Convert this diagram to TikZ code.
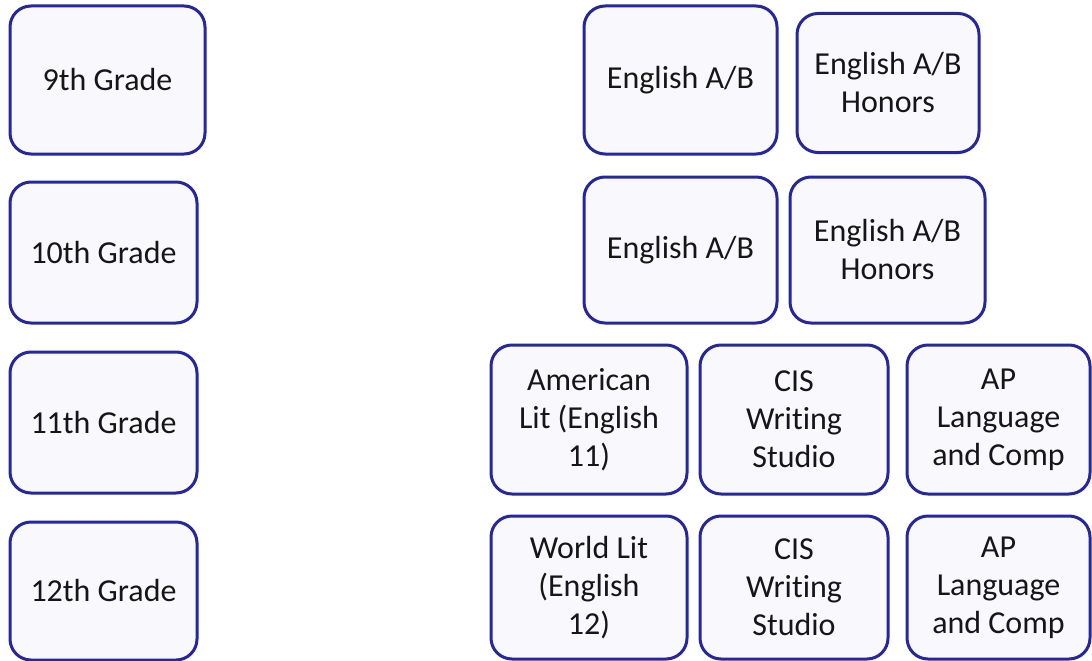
\documentclass[tikz,border=0pt]{standalone}
\usepackage{fontspec}
\setmainfont{Carlito}[RawFeature={-liga;-clig}]
\definecolor{boxline}{RGB}{38,38,158}
\definecolor{boxfill}{RGB}{249,249,253}
\definecolor{txt}{RGB}{22,22,22}
\begin{document}
\begin{tikzpicture}[x=1pt,y=-1pt,
  card/.style={draw=boxline, fill=boxfill, line width=3pt, rounded corners=21pt,
    inner sep=0pt, align=center, text=txt,
    font=\fontsize{32}{38}\selectfont}]
\useasboundingbox (0,0) rectangle (1092,661);
% grades
\node[card, minimum width=195pt, minimum height=148pt] (g9) at (107.5,80) {9th Grade};
\node[card, minimum width=187pt, minimum height=141pt] (g10) at (103.5,252.5) {10th Grade};
\node[card, minimum width=187pt, minimum height=141pt] (g11) at (103.5,422.5) {11th Grade};
\node[card, minimum width=187pt, minimum height=138pt] (g12) at (103.5,591) {12th Grade};
% 9th
\node[card, minimum width=193pt, minimum height=148pt] (e9) at (680.5,80) {English A/B};
\node[card, minimum width=182pt, minimum height=139pt] (h9) at (888,83) {English A/B\\Honors};
% 10th
\node[card, minimum width=193pt, minimum height=146pt] (e10) at (680.5,250) {English A/B};
\node[card, minimum width=195pt, minimum height=146pt] (h10) at (887.5,250) {English A/B\\Honors};
% 11th
\node[card, minimum width=196pt, minimum height=149pt] (am) at (589,419.5) {American\\Lit (English\\11)};
\node[card, minimum width=188pt, minimum height=149pt] (cis11) at (794,419.5) {CIS\\Writing\\Studio};
\node[card, minimum width=183pt, minimum height=149pt] (ap11) at (998.5,419.5) {AP\\Language\\and Comp};
% 12th
\node[card, minimum width=196pt, minimum height=143pt] (wl) at (589,587.5) {World Lit\\(English\\12)};
\node[card, minimum width=188pt, minimum height=143pt] (cis12) at (794,587.5) {CIS\\Writing\\Studio};
\node[card, minimum width=183pt, minimum height=143pt] (ap12) at (998.5,587.5) {AP\\Language\\and Comp};
\end{tikzpicture}
\end{document}
